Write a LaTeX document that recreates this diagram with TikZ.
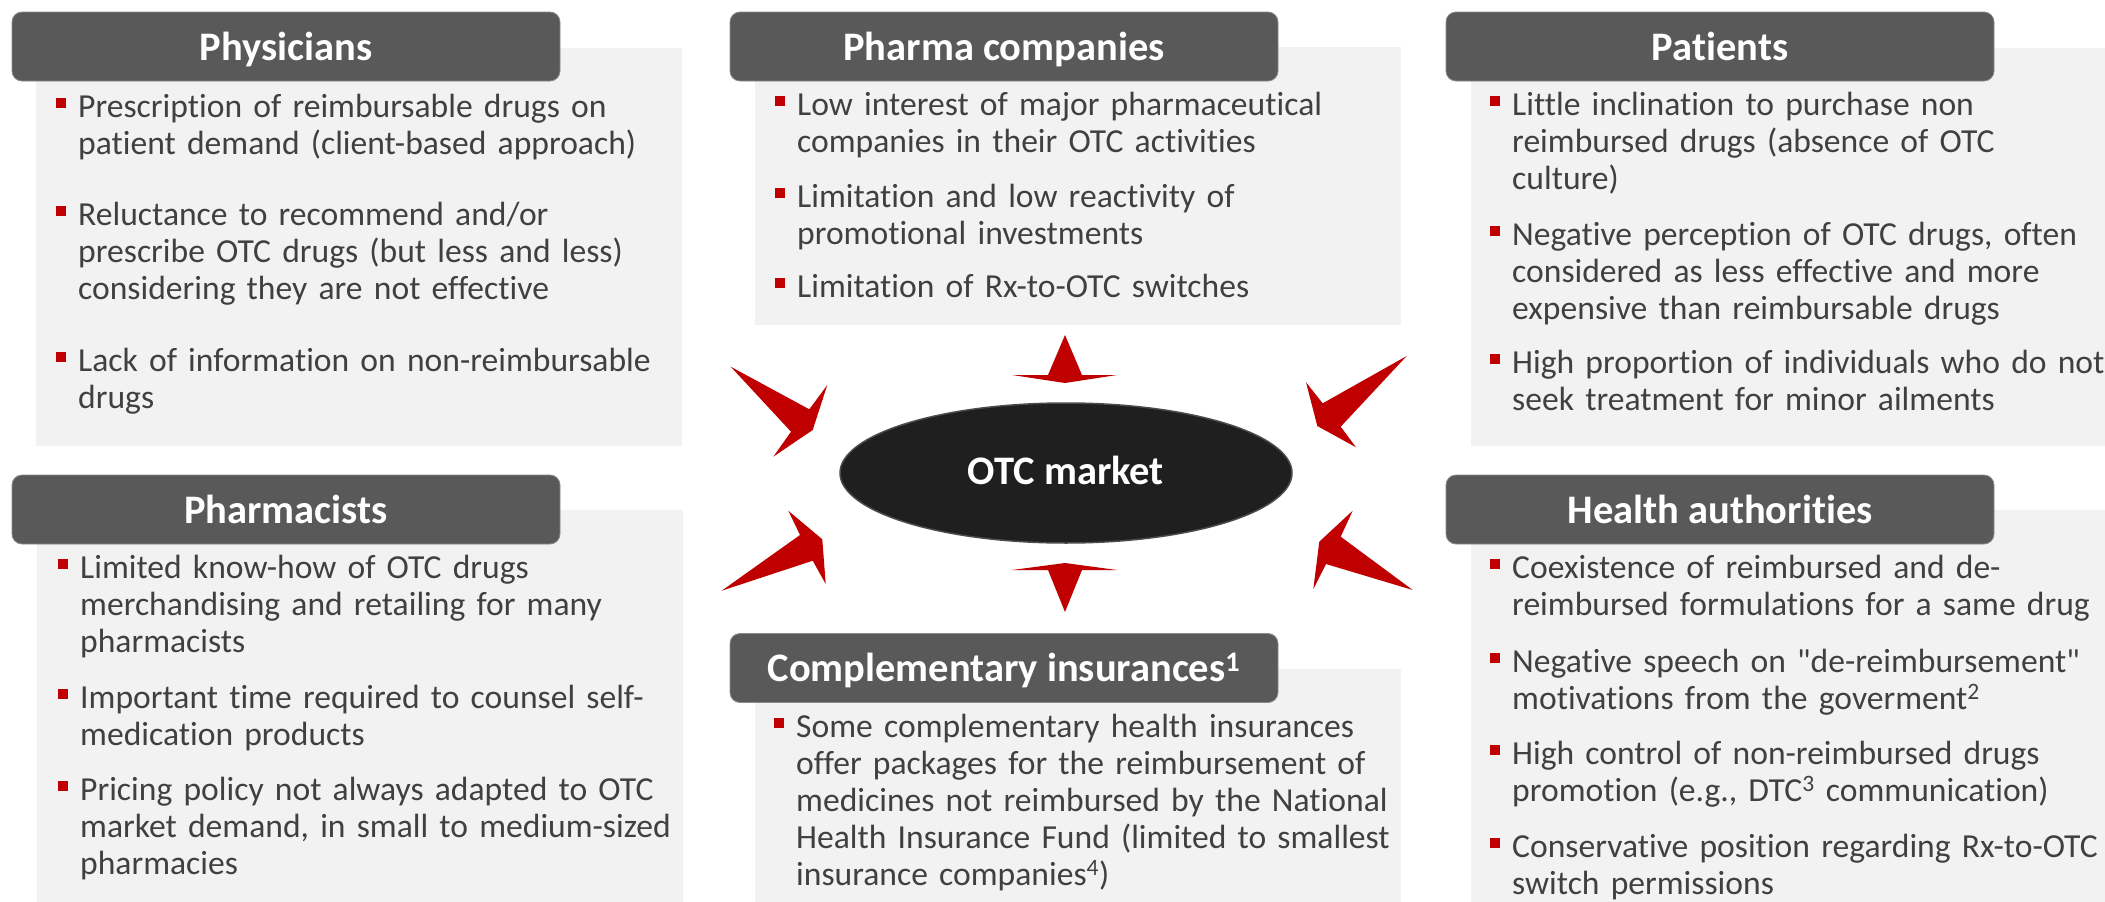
\documentclass[tikz,border=0pt]{standalone}
\usepackage{fontspec}
\setmainfont{Carlito}[Ligatures={NoCommon,TeXOff}]
\usetikzlibrary{shapes.geometric,calc}
\definecolor{hdrgray}{HTML}{595959}
\definecolor{hdredge}{HTML}{8A8A8A}
\definecolor{bodygray}{HTML}{F2F2F2}
\definecolor{txtgray}{HTML}{404040}
\definecolor{bulred}{HTML}{C00000}
\definecolor{ellfill}{HTML}{1F1F1F}
\newcommand\bulsq[1]{\fill[bulred] ($(#1.base west)+(-22,-19)$) rectangle ++(10,10);}
\begin{document}
\begin{tikzpicture}[x=1pt,y=-1pt,
  hdr/.style={rectangle, rounded corners=10pt, fill=hdrgray, draw=hdredge, line width=0.8pt,
    minimum width=548pt, minimum height=69pt, inner sep=0pt},
  hdrtext/.style={anchor=base, text=white, font=\fontsize{40.5}{45}\selectfont\bfseries, inner sep=0pt},
  bodybox/.style={fill=bodygray},
  item/.style={anchor=base west, align=left, text width=640pt, inner sep=0pt, text=txtgray,
    font=\fontsize{33.6}{37}\selectfont},
  spike/.style={fill=bulred}]
\useasboundingbox (0,0) rectangle (2105,902);
\fill[white] (0,0) rectangle (2105,902);

% ---- bodies
\fill[bodybox] (36,48) rectangle (682,446);
\fill[bodybox] (755,47) rectangle (1401,325);
\fill[bodybox] (1471,48) rectangle (2105,446);
\fill[bodybox] (37,510) rectangle (683,902);
\fill[bodybox] (755,669) rectangle (1401,902);
\fill[bodybox] (1471,510) rectangle (2105,902);

% ---- headers
\node[hdr] (hPhys) at (286,46.5) {};
\node[hdrtext] (tPhys) at (286,60) {Physicians};
\node[hdr] (hPharma) at (1004,46.5) {};
\node[hdrtext] (tPharma) at (1004,60) {Pharma companies};
\node[hdr] (hPat) at (1720,46.5) {};
\node[hdrtext] (tPat) at (1720,60) {Patients};
\node[hdr] (hPhcist) at (286,509.5) {};
\node[hdrtext] (tPhcist) at (286,523) {Pharmacists};
\node[hdr] (hHealth) at (1720,509.5) {};
\node[hdrtext] (tHealth) at (1720,523) {Health authorities};
\node[hdr] (hComp) at (1004,668) {};
\node[hdrtext] (tComp) at (1004,681) {Complementary insurances\textsuperscript{1}};

% ---- Physicians
\node[item] (ph1) at (78,117) {Prescription of reimbursable drugs on\\patient demand (client-based approach)};
\node[item] (ph2) at (78,225) {Reluctance to recommend and/or\\prescribe OTC drugs (but less and less)\\considering they are not effective};
\node[item] (ph3) at (78,371) {Lack of information on non-reimbursable\\drugs};
\bulsq{ph1}\bulsq{ph2}\bulsq{ph3}

% ---- Pharma companies
\node[item] (pc1) at (797,115) {Low interest of major pharmaceutical\\companies in their OTC activities};
\node[item] (pc2) at (797,207) {Limitation and low reactivity of\\promotional investments};
\node[item] (pc3) at (797,297) {Limitation of Rx-to-OTC switches};
\bulsq{pc1}\bulsq{pc2}\bulsq{pc3}

% ---- Patients
\node[item] (pa1) at (1512,115) {Little inclination to purchase non\\reimbursed drugs (absence of OTC\\culture)};
\node[item] (pa2) at (1512,245) {Negative perception of OTC drugs, often\\considered as less effective and more\\expensive than reimbursable drugs};
\node[item] (pa3) at (1512,373) {High proportion of individuals who do not\\seek treatment for minor ailments};
\bulsq{pa1}\bulsq{pa2}\bulsq{pa3}

% ---- Pharmacists
\node[item] (pm1) at (80,578) {Limited know-how of OTC drugs\\merchandising and retailing for many\\pharmacists};
\node[item] (pm2) at (80,708) {Important time required to counsel self-\\medication products};
\node[item] (pm3) at (80,800) {Pricing policy not always adapted to OTC\\market demand, in small to medium-sized\\pharmacies};
\bulsq{pm1}\bulsq{pm2}\bulsq{pm3}

% ---- Complementary insurances
\node[item] (ci1) at (796,737) {Some complementary health insurances\\offer packages for the reimbursement of\\medicines not reimbursed by the National\\Health Insurance Fund (limited to smallest\\insurance companies\textsuperscript{4})};
\bulsq{ci1}

% ---- Health authorities
\node[item] (ha1) at (1512,578) {Coexistence of reimbursed and de-\\reimbursed formulations for a same drug};
\node[item] (ha2) at (1512,672) {Negative speech on "de-reimbursement"\\motivations from the goverment\textsuperscript{2}};
\node[item] (ha3) at (1512,764) {High control of non-reimbursed drugs\\promotion (e.g., DTC\textsuperscript{3} communication)};
\node[item] (ha4) at (1512,857) {Conservative position regarding Rx-to-OTC\\switch permissions};
\bulsq{ha1}\bulsq{ha2}\bulsq{ha3}\bulsq{ha4}

% ---- centre
\node[ellipse, fill=ellfill, draw=black!70, line width=1.5pt, minimum width=452pt, minimum height=140pt, inner sep=0pt] (otc) at (1066,473) {};
\node[hdrtext] (totc) at (1066,484) {OTC market};

% ---- red arrows
\fill[spike] (1065,335) -- (1048,375) -- (1012,375) -- (1065,383) -- (1117,375) -- (1082,375) -- cycle;
\fill[spike] (1065,612) -- (1048,570) -- (1012,570) -- (1065,563) -- (1117,570) -- (1082,570) -- cycle;
\fill[spike] (730.7,366.7) -- (809.3,409.3) -- (827.3,385) -- (812.7,430) -- (773.3,456.7) -- (791,431.7) -- cycle;
\fill[spike] (721.7,590.7) -- (800,535) -- (788.3,510.7) -- (822.3,539.3) -- (825.7,584) -- (812.7,560.7) -- cycle;
\fill[spike] (1406.7,356) -- (1322.7,403.3) -- (1306,382.3) -- (1317.3,426) -- (1356,447.3) -- (1340.7,426.7) -- cycle;
\fill[spike] (1412.7,590) -- (1340.7,536.7) -- (1352.7,510.7) -- (1319.3,541.7) -- (1313.3,589.3) -- (1326,564) -- cycle;
\end{tikzpicture}
\end{document}
